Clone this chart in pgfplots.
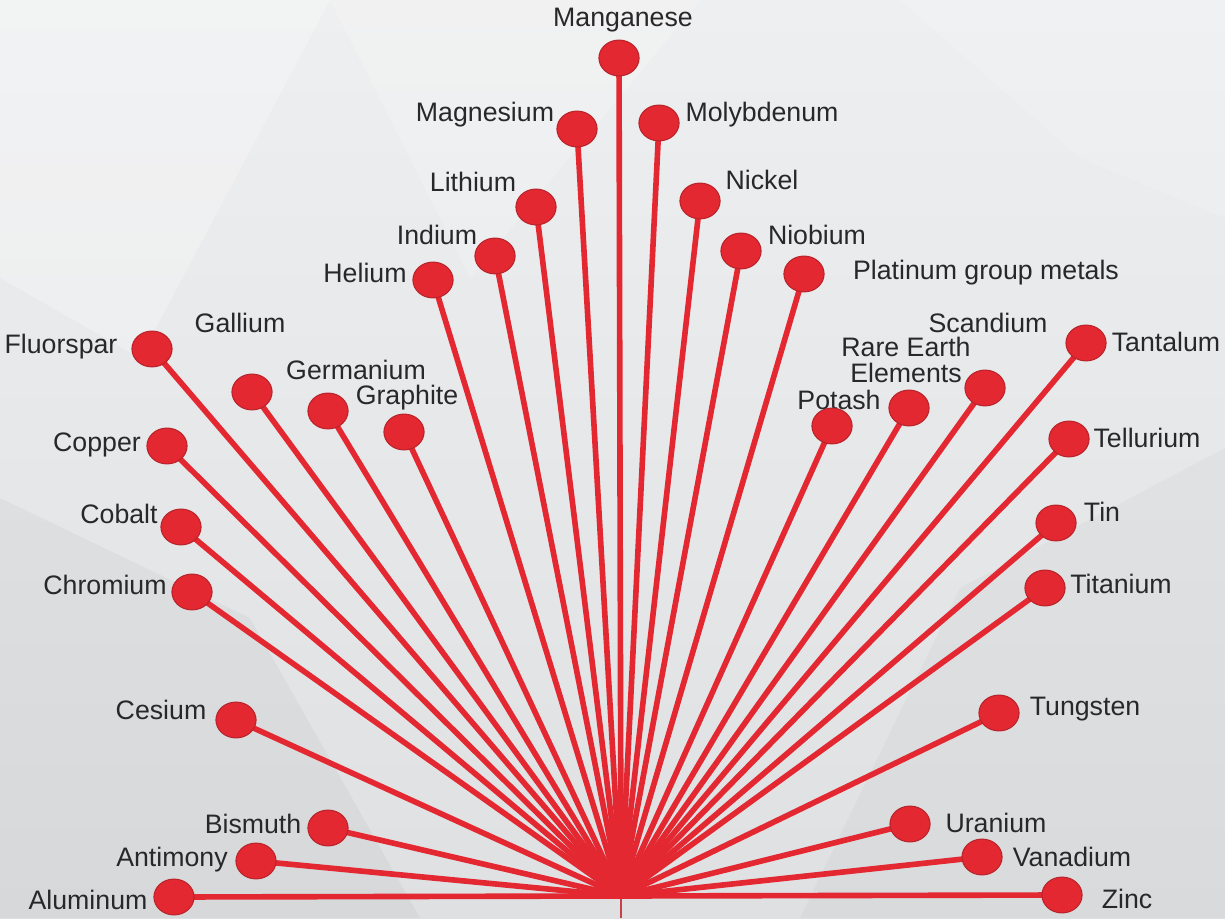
\documentclass[border=0pt]{standalone}
\usepackage{pgfplots}
\pgfplotsset{compat=1.18}
\usepackage{fontspec}
\setmainfont{Liberation Sans}
\definecolor{dotred}{RGB}{228,40,50}
\definecolor{dotedge}{RGB}{185,35,42}
\definecolor{lab}{RGB}{40,40,42}
\definecolor{bgA}{RGB}{238,239,240}
\definecolor{bgB}{RGB}{222,224,226}
\tikzset{lb/.style={text=lab, inner sep=0pt, font=\fontsize{7.6}{7.3}\selectfont}}
\newcommand{\spoke}[2]{\addplot[spoke] coordinates {(621,22) (#1,#2)};}
\begin{document}
\begin{tikzpicture}[font=\fontsize{7.6}{7.3}\selectfont]
\begin{axis}[
  width=12.25cm, height=9.18cm, scale only axis,
  xmin=0, xmax=1225, ymin=0, ymax=918,
  axis lines=none, clip=false,
  spoke/.style={color=dotred, line width=1.6pt, mark=*, mark indices={2},
    mark size=5.1pt, mark options={xscale=1.12, fill=dotred, draw=dotedge, line width=0.3pt}}
]
% background
\fill[top color=bgA, bottom color=bgB] (rel axis cs:0,0) rectangle (rel axis cs:1,1);
\fill[white, opacity=0.25] (axis cs:0,918) -- (axis cs:330,918) -- (axis cs:140,560) -- (axis cs:0,640) -- cycle;
\fill[white, opacity=0.18] (axis cs:330,918) -- (axis cs:700,918) -- (axis cs:470,640) -- cycle;
\fill[white, opacity=0.15] (axis cs:900,918) -- (axis cs:1225,918) -- (axis cs:1225,700) -- (axis cs:1080,760) -- cycle;
\fill[black, opacity=0.03] (axis cs:0,0) -- (axis cs:0,420) -- (axis cs:250,300) -- (axis cs:420,0) -- cycle;
\fill[black, opacity=0.025] (axis cs:1225,0) -- (axis cs:1225,470) -- (axis cs:960,330) -- (axis cs:800,0) -- cycle;
% stub
\addplot[color=dotred!70!gray, line width=0.6pt] coordinates {(621,22) (621,0)};
% spokes
\spoke{174}{21}
\spoke{256}{57}
\spoke{328}{90}
\spoke{236}{198}
\spoke{192}{326}
\spoke{181}{391}
\spoke{167}{472}
\spoke{152}{569}
\spoke{252}{526}
\spoke{328}{507}
\spoke{404}{486}
\spoke{433}{638}
\spoke{495}{662}
\spoke{536}{711}
\spoke{577}{789}
\spoke{619}{860}
\spoke{659}{795}
\spoke{700}{717}
\spoke{741}{667}
\spoke{804}{644}
\spoke{832}{492}
\spoke{909}{510}
\spoke{985}{530}
\spoke{1086}{575}
\spoke{1069}{479}
\spoke{1056}{395}
\spoke{1045}{330}
\spoke{999}{205}
\spoke{910}{94}
\spoke{982}{61}
\spoke{1062}{23}
% labels
\node[lb] at (axis cs:623,898) {Manganese};
\node[lb] at (axis cs:485,803) {Magnesium};
\node[lb] at (axis cs:762,803) {Molybdenum};
\node[lb] at (axis cs:473,736) {Lithium};
\node[lb] at (axis cs:762,738) {Nickel};
\node[lb] at (axis cs:437,683) {Indium};
\node[lb] at (axis cs:817,683) {Niobium};
\node[lb] at (axis cs:365,645) {Helium};
\node[lb] at (axis cs:986,645) {Platinum group metals};
\node[lb] at (axis cs:240,595) {Gallium};
\node[lb] at (axis cs:61,571) {Fluorspar};
\node[lb] at (axis cs:988,595) {Scandium};
\node[lb, align=center] at (axis cs:906,558) {Rare Earth\\Elements};
\node[lb] at (axis cs:1166,576) {Tantalum};
\node[lb] at (axis cs:356,548) {Germanium};
\node[lb] at (axis cs:407,520) {Graphite};
\node[lb] at (axis cs:839,518) {Potash};
\node[lb] at (axis cs:97,473) {Copper};
\node[lb] at (axis cs:1147,480) {Tellurium};
\node[lb] at (axis cs:119,404) {Cobalt};
\node[lb] at (axis cs:1102,406) {Tin};
\node[lb] at (axis cs:105,333) {Chromium};
\node[lb] at (axis cs:1121,334) {Titanium};
\node[lb] at (axis cs:161,208) {Cesium};
\node[lb] at (axis cs:1085,209) {Tungsten};
\node[lb] at (axis cs:253,94) {Bismuth};
\node[lb] at (axis cs:996,95) {Uranium};
\node[lb] at (axis cs:172,58) {Antimony};
\node[lb] at (axis cs:1072,61) {Vanadium};
\node[lb] at (axis cs:88,18) {Aluminum};
\node[lb] at (axis cs:1127,19) {Zinc};
\end{axis}
\pgfresetboundingbox
\path (0,0) rectangle (12.25cm,9.18cm);
\end{tikzpicture}
\end{document}
